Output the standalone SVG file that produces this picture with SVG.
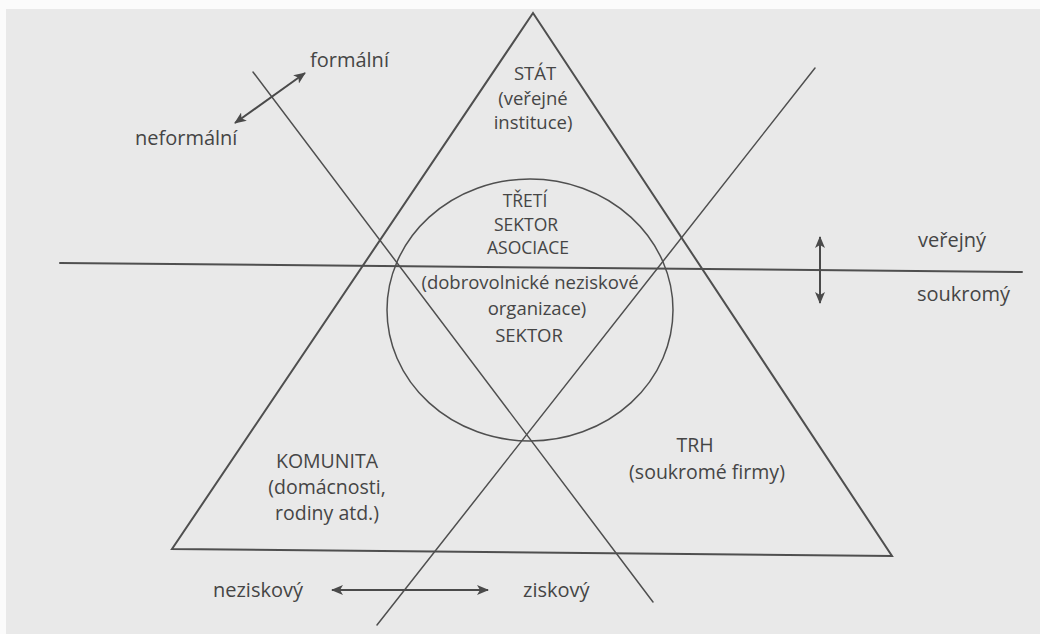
<svg xmlns="http://www.w3.org/2000/svg" width="1040" height="634" viewBox="0 0 1040 634">
  <style>
    .ln { stroke: #4f4f4f; stroke-width: 1.5; fill: none; stroke-linecap: round; }
    .thick { stroke-width: 2; }
    .arr { stroke: #4a4a4a; stroke-width: 2; fill: none; }
    text { font-family: "Open Sans", "Liberation Sans", sans-serif; fill: #454545; }
    .lbl { font-size: 20px; }
    .sec { font-size: 19.5px; text-anchor: middle; }
    .st { font-size: 18.5px; text-anchor: middle; }
    .cir { font-size: 18.5px; text-anchor: middle; }
    .cirs { font-size: 17.5px; text-anchor: middle; }
  </style>
  <defs>
    <marker id="ah" viewBox="0 0 12 10" refX="11" refY="5" markerWidth="12" markerHeight="10" orient="auto-start-reverse" markerUnits="userSpaceOnUse">
      <path d="M0,0 L12,5 L0,10 L3,5 z" fill="#4a4a4a"/>
    </marker>
  </defs>
  <rect x="0" y="0" width="1040" height="634" fill="#fbfbfb"/>
  <rect x="6" y="9" width="1034" height="625" fill="#e9e9e9"/>

  <g id="connectors">
    <polygon class="ln thick" points="533,13 172,549 892,556" stroke-linejoin="miter"/>
    <line class="ln thick" x1="60" y1="263" x2="1022" y2="272"/>
    <line class="ln" x1="253" y1="72" x2="653" y2="602"/>
    <line class="ln" x1="815" y1="68" x2="377" y2="625"/>
    <ellipse class="ln" cx="530" cy="310" rx="143" ry="131"/>
    <path class="arr" d="M305,73 L235,123" marker-start="url(#ah)" marker-end="url(#ah)"/>
    <path class="arr" d="M820,237 L820,303" marker-start="url(#ah)" marker-end="url(#ah)"/>
    <path class="arr" d="M332,590 L488,590" marker-start="url(#ah)" marker-end="url(#ah)"/>
  </g>

  <g id="stat">
    <text class="st" x="535" y="80">STÁT</text>
    <text class="st" x="533" y="104.5">(veřejné</text>
    <text class="st" x="533" y="129">instituce)</text>
  </g>

  <g id="treti-sektor">
    <text class="cirs" x="525" y="207">TŘETÍ</text>
    <text class="cirs" x="526" y="230.5">SEKTOR</text>
    <text class="cirs" x="528" y="254">ASOCIACE</text>
    <text class="cir" x="530" y="289">(dobrovolnické neziskové</text>
    <text class="cir" x="537" y="315">organizace)</text>
    <text class="cir" x="529" y="342">SEKTOR</text>
  </g>

  <g id="komunita">
    <text class="sec" x="327" y="468">KOMUNITA</text>
    <text class="sec" x="327" y="494">(domácnosti,</text>
    <text class="sec" x="327" y="520">rodiny atd.)</text>
  </g>

  <g id="trh">
    <text class="sec" x="695" y="452">TRH</text>
    <text class="sec" x="707" y="479">(soukromé firmy)</text>
  </g>

  <g id="axis-formalni">
    <text class="lbl" x="310" y="67">formální</text>
    <text class="lbl" x="135" y="145">neformální</text>
  </g>

  <g id="axis-verejny">
    <text class="lbl" x="918" y="247">veřejný</text>
    <text class="lbl" x="917" y="301">soukromý</text>
  </g>

  <g id="axis-ziskovy">
    <text class="lbl" x="213" y="597">neziskový</text>
    <text class="lbl" x="523" y="597">ziskový</text>
  </g>
</svg>
